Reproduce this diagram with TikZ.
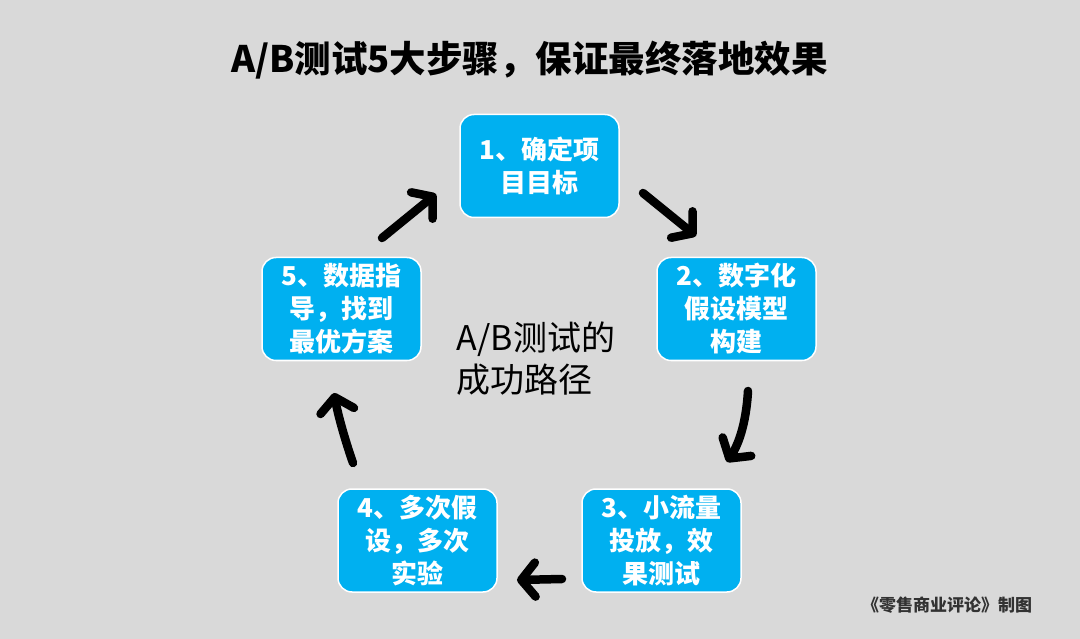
\documentclass[tikz,border=0pt]{standalone}
\usepackage{fontspec}
\setmainfont{Noto Sans CJK SC}
\usetikzlibrary{arrows.meta}
\definecolor{bg}{RGB}{217,217,217}
\definecolor{boxblue}{RGB}{0,176,240}
\definecolor{foot}{RGB}{50,50,50}
\begin{document}
\begin{tikzpicture}[x=1pt,y=-1pt,
  stepbox/.style={rectangle, rounded corners=14pt, draw=white, line width=1.5pt,
    fill=boxblue, text=white, minimum width=159pt, minimum height=103pt,
    align=center, inner sep=0pt, font=\bfseries\fontsize{26pt}{33pt}\selectfont},
  arr/.style={line width=8.5pt, line cap=round, line join=round,
    -{Straight Barb[length=14pt,width=34pt,line cap=round,line join=round]}},
  titletext/.style={font=\bfseries\fontsize{36.5pt}{40pt}\selectfont, text=black, inner sep=0pt},
  centertext/.style={font=\fontsize{34pt}{42pt}\selectfont, text=black, align=left, inner sep=0pt},
  foottext/.style={font=\bfseries\fontsize{17pt}{18pt}\selectfont, text=foot, inner sep=0pt}
]
\fill[bg] (0,0) rectangle (1080,639);
\useasboundingbox (0,0) rectangle (1080,639);

\node[titletext] (title) at (529.5,60) {A/B测试5大步骤，保证最终落地效果};

\node[stepbox] (b1) at (539.5,166) {1、确定项\\目目标};
\node[stepbox] (b2) at (736.5,309) {2、数字化\\假设模型\\构建};
\node[stepbox] (b3) at (661.5,540.5) {3、小流量\\投放，效\\果测试};
\node[stepbox] (b4) at (417.5,540.5) {4、多次假\\设，多次\\实验};
\node[stepbox] (b5) at (341.5,309) {5、数据指\\导，找到\\最优方案};

\node[centertext] (center) at (536,359) {A/B测试的\\成功路径};

\node[foottext] (foot) at (947,605) {《零售商业评论》制图};

\coordinate (a1s) at (643,193);
\coordinate (a1e) at (696,236);
\coordinate (a2s) at (748,391);
\coordinate (a2e) at (727,462);
\coordinate (a3s) at (562,579);
\coordinate (a3e) at (517,580);
\coordinate (a4s) at (353,463);
\coordinate (a4e) at (334,393);
\coordinate (a5s) at (382,238);
\coordinate (a5e) at (436,194);

\draw[arr] (a1s) -- (a1e);
\draw[arr] (a2s) .. controls (746,425) and (738,445) .. (a2e);
\draw[arr] (a3s) -- (a3e);
\draw[arr] (a4s) .. controls (345,440) and (338,415) .. (a4e);
\draw[arr] (a5s) -- (a5e);
\end{tikzpicture}
\end{document}
